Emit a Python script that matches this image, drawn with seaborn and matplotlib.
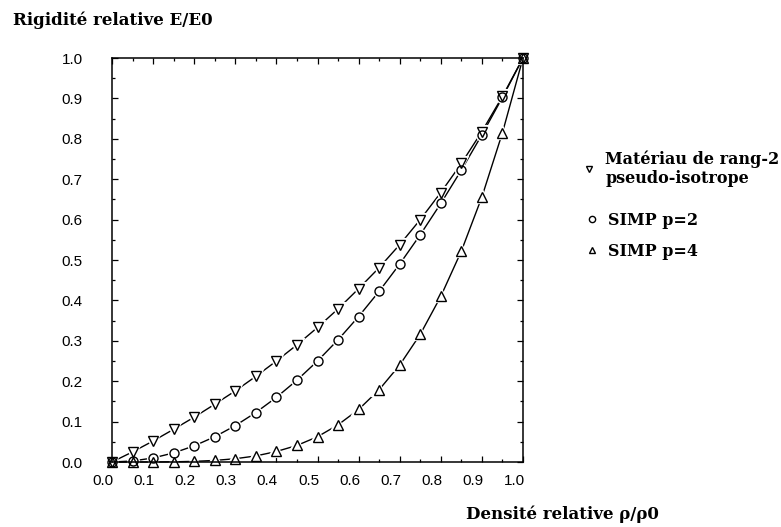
import matplotlib
matplotlib.use("Agg")
import matplotlib.pyplot as plt
from matplotlib.lines import Line2D
from matplotlib.transforms import ScaledTranslation
from matplotlib.ticker import MultipleLocator
import seaborn as sns
import pandas as pd

# ---- data ----
density = [0.00, 0.05, 0.10, 0.15, 0.20, 0.25, 0.30, 0.35, 0.40, 0.45, 0.50,
           0.55, 0.60, 0.65, 0.70, 0.75, 0.80, 0.85, 0.90, 0.95, 1.00]
rank2 = [0.000, 0.025, 0.052, 0.081, 0.111, 0.143, 0.176, 0.212, 0.250, 0.290, 0.333,
         0.379, 0.429, 0.481, 0.538, 0.600, 0.667, 0.739, 0.818, 0.905, 1.000]
simp2 = [0.000, 0.0025, 0.010, 0.0225, 0.040, 0.0625, 0.090, 0.1225, 0.160, 0.2025, 0.250,
         0.3025, 0.360, 0.4225, 0.490, 0.5625, 0.640, 0.7225, 0.810, 0.9025, 1.000]
simp4 = [0.000, 0.000, 0.0001, 0.0005, 0.0016, 0.0039, 0.0081, 0.015, 0.026, 0.041, 0.0625,
         0.092, 0.130, 0.179, 0.240, 0.316, 0.410, 0.522, 0.656, 0.815, 1.000]
series_labels = ["Matériau de rang-2\npseudo-isotrope", "SIMP p=2", "SIMP p=4"]
series_markers = ["v", "o", "^"]
xticks = [0.0, 0.1, 0.2, 0.3, 0.4, 0.5, 0.6, 0.7, 0.8, 0.9, 1.0]
yticks = [0.0, 0.1, 0.2, 0.3, 0.4, 0.5, 0.6, 0.7, 0.8, 0.9, 1.0]
title_text = "Rigidité relative E/E0"
xlabel_text = "Densité relative ρ/ρ0"

sns.set_theme(style="white")
plt.rcParams["font.family"] = ["DejaVu Sans"]

W, H = 781, 527
fig = plt.figure(figsize=(W / 100, H / 100), dpi=100)
ax = fig.add_axes([112 / W, 1 - 462 / H, (523 - 112) / W, (462 - 58) / H])

frames = []
for lab, vals in zip(series_labels, [rank2, simp2, simp4]):
    frames.append(pd.DataFrame({"x": density, "y": vals, "s": lab}))
df = pd.concat(frames, ignore_index=True)

# connecting lines
for lab in series_labels:
    sub = df[df["s"] == lab]
    sns.lineplot(data=sub, x="x", y="y", ax=ax, color="black", lw=1.0,
                 estimator=None, sort=False, legend=False, clip_on=False)
# white halo under markers (gives the broken-line look)
for lab, mk in zip(series_labels, series_markers):
    sub = df[df["s"] == lab]
    sns.lineplot(data=sub, x="x", y="y", ax=ax, color="white", linestyle="none",
                 marker=mk, markersize=6.5, markerfacecolor="white",
                 markeredgecolor="white", markeredgewidth=3.0,
                 estimator=None, sort=False, legend=False, clip_on=False)
# open markers
for lab, mk in zip(series_labels, series_markers):
    sub = df[df["s"] == lab]
    sns.lineplot(data=sub, x="x", y="y", ax=ax, color="black", linestyle="none",
                 marker=mk, markersize=6.5, markerfacecolor="none",
                 markeredgecolor="black", markeredgewidth=1.0,
                 estimator=None, sort=False, legend=False, clip_on=False)

ax.set_xlim(0, 1)
ax.set_ylim(0, 1)
ax.set_xticks(xticks)
ax.set_yticks(yticks)
ax.set_xticklabels([f"{t:.1f}" for t in xticks])
ax.set_yticklabels([f"{t:.1f}" for t in yticks])
ax.xaxis.set_minor_locator(MultipleLocator(0.05))
ax.yaxis.set_minor_locator(MultipleLocator(0.05))
ax.set_xlabel("")
ax.set_ylabel("")
for sp in ax.spines.values():
    sp.set_color("black")
    sp.set_linewidth(1.1)
ax.tick_params(which="both", direction="in", top=True, right=True,
               bottom=True, left=True, color="black", width=0.9)
ax.tick_params(which="major", length=4)
ax.tick_params(which="minor", length=2.5)
ax.tick_params(axis="x", which="major", pad=8.5, labelsize=11, labelcolor="black")
ax.tick_params(axis="y", which="major", pad=21, labelsize=11, labelcolor="black")
for lbl in ax.get_xticklabels():
    lbl.set_fontfamily("Liberation Sans")
    lbl.set_transform(lbl.get_transform() + ScaledTranslation(-9 / 100, 0, fig.dpi_scale_trans))
for lbl in ax.get_yticklabels():
    lbl.set_fontfamily("Liberation Sans")
ax.grid(False)

serif = ["DejaVu Serif"]
fig.text(13 / W, 1 - 20 / H, title_text, ha="left", va="center",
         family=serif, fontsize=12, fontweight="bold", color="black")
fig.text(466 / W, 1 - 514 / H, xlabel_text, ha="left", va="center",
         family=serif, fontsize=12, fontweight="bold", color="black")

# legend: one small legend per entry to match the irregular spacing
leg_pos = [(583, 150), (586, 212), (586, 243)]
for (lx, ly), lab, mk in zip(leg_pos, series_labels, series_markers):
    h = Line2D([], [], linestyle="none", marker=mk, markersize=4.5, markerfacecolor="white",
               markeredgecolor="black", markeredgewidth=1.0, color="black")
    leg = fig.legend([h], [lab], loc="upper left",
                     bbox_to_anchor=(lx / W, 1 - ly / H),
                     frameon=False, handlelength=0.8, handletextpad=0.6,
                     borderpad=0, borderaxespad=0,
                     prop={"family": serif, "size": 11.5, "weight": "bold"})
    for t in leg.get_texts():
        t.set_color("black")

fig.savefig("out.png", dpi=100, facecolor="white")
